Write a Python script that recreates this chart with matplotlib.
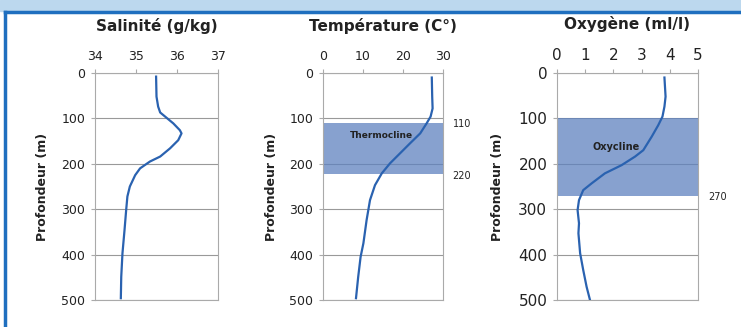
import numpy as np
import matplotlib.pyplot as plt
import matplotlib.patches as mpatches

# profile data (depth in m)
sal_depth = [8, 52, 74, 87, 96, 111, 126, 133, 148, 166, 184, 195, 210, 225, 250, 272, 302, 346, 397, 449, 496]
sal_val = [35.49, 35.50, 35.54, 35.59, 35.71, 35.91, 36.07, 36.11, 36.03, 35.83, 35.59, 35.34, 35.10, 34.98, 34.85,
           34.79, 34.76, 34.72, 34.67, 34.64, 34.63]

temp_depth = [10, 52, 78, 96, 111, 133, 155, 177, 199, 221, 247, 280, 324, 375, 405, 449, 496]
temp_val = [27.2, 27.3, 27.4, 26.9, 25.9, 24.3, 21.75, 19.25, 16.75, 14.7, 13.0, 11.75, 10.9, 10.1, 9.4, 8.8, 8.25]

oxy_depth = [10, 52, 74, 96, 115, 140, 170, 184, 203, 221, 243, 258, 280, 302, 331, 353, 397, 434, 471, 500]
oxy_val = [3.81, 3.85, 3.81, 3.74, 3.59, 3.36, 3.06, 2.77, 2.29, 1.70, 1.23, 0.93, 0.78, 0.73, 0.78, 0.76, 0.82,
           0.93, 1.05, 1.17]

depth_ticks = [0, 100, 200, 300, 400, 500]

line_col = '#2a62b0'
band_col = '#5f82bf'

fig = plt.figure(figsize=(7.41, 3.27), dpi=100)
fig.patch.set_facecolor('white')

# decorative header and border
fig.patches.append(mpatches.Rectangle((0, 1 - 11 / 327), 1, 11 / 327, transform=fig.transFigure,
                                      color='#bcd8ee', zorder=0))
fig.lines.append(plt.Line2D([5 / 741, 1], [1 - 12 / 327, 1 - 12 / 327], transform=fig.transFigure,
                            color='#1f6fbf', lw=2.5))
fig.lines.append(plt.Line2D([5 / 741, 5 / 741], [0, 1 - 12 / 327], transform=fig.transFigure,
                            color='#1f6fbf', lw=2.5))

bottom = 1 - 300 / 327
height = (300 - 73) / 327


def setup(ax, xlim, xticks, title, fs, lpad):
    ax.set_xlim(xlim)
    ax.set_ylim(500, 0)
    ax.set_xticks(xticks)
    ax.set_yticks(depth_ticks)
    ax.xaxis.tick_top()
    ax.tick_params(axis='both', labelsize=fs, length=3, color='#aaaaaa', pad=4, labelcolor='#222222')
    ax.grid(axis='y', color='#999999', lw=0.8)
    ax.set_axisbelow(True)
    for s in ax.spines.values():
        s.set_color('#aaaaaa')
        s.set_linewidth(0.8)
    ax.set_ylabel('Profondeur (m)', fontsize=9, fontweight='bold', color='#222222', labelpad=lpad)
    ax.set_title(title, fontsize=11, fontweight='bold', color='#222222', pad=14)


ax1 = fig.add_axes([95 / 741, bottom, 123 / 741, height])
setup(ax1, (34, 37), [34, 35, 36, 37], 'Salinité (g/kg)', 9, 9)
ax1.plot(sal_val, sal_depth, color=line_col, lw=1.6)

ax2 = fig.add_axes([323 / 741, bottom, 120 / 741, height])
setup(ax2, (0, 30), [0, 10, 20, 30], 'Température (C°)', 9, 8)
ax2.axhspan(111, 222, color=band_col, alpha=0.75, lw=0, zorder=1)
ax2.plot(temp_val, temp_depth, color=line_col, lw=1.6, zorder=3)
ax2.text(14.5, 138, 'Thermocline', fontsize=6.5, fontweight='bold', color='#222222', ha='center', va='center', zorder=2)
ax2.text(1.08, 112, '110', transform=ax2.get_yaxis_transform(), fontsize=7, color='#222222', va='center')
ax2.text(1.08, 226, '220', transform=ax2.get_yaxis_transform(), fontsize=7, color='#222222', va='center')

ax3 = fig.add_axes([557 / 741, bottom, 141 / 741, height])
setup(ax3, (0, 5), [0, 1, 2, 3, 4, 5], 'Oxygène (ml/l)', 11, 10)
ax3.axhspan(99, 271, color=band_col, alpha=0.75, lw=0, zorder=1)
ax3.plot(oxy_val, oxy_depth, color=line_col, lw=1.6, zorder=3)
ax3.text(2.1, 164, 'Oxycline', fontsize=7, fontweight='bold', color='#222222', ha='center', va='center', zorder=2)
ax3.text(1.07, 273, '270', transform=ax3.get_yaxis_transform(), fontsize=7, color='#222222', va='center')

fig.savefig('out.png', dpi=100)
